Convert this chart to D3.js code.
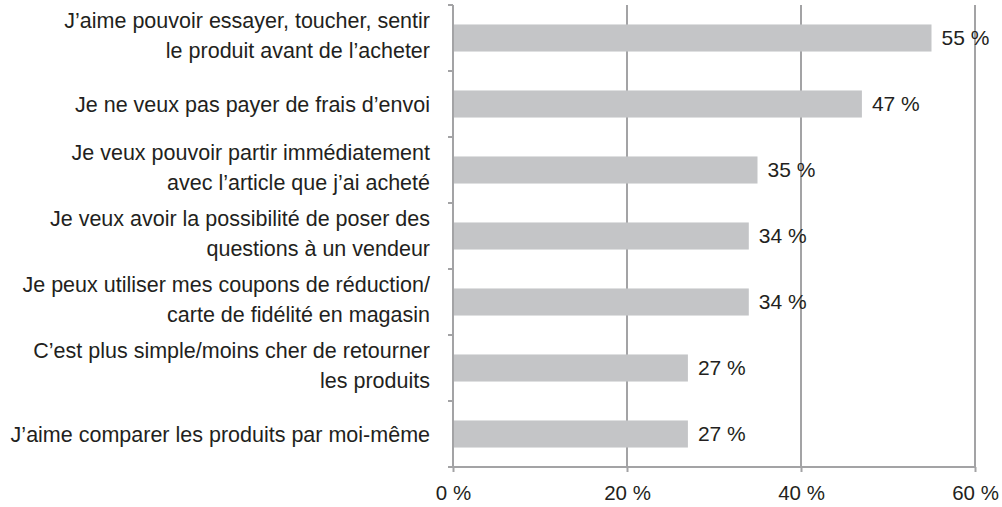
<!DOCTYPE html>
<html>
<head>
<meta charset="utf-8">
<script src="https://cdn.jsdelivr.net/npm/d3@7"></script>
<style>
  body { margin: 0; background: #fff; }
  svg text { font-family: "Liberation Sans", Arial, sans-serif; fill: #231f20; }
</style>
</head>
<body>
<svg width="1002" height="507"></svg>
<script>
// Data
const categories = [
    ["J\u2019aime pouvoir essayer,  toucher, sentir", "le produit avant de l\u2019acheter"],
    ["Je ne veux pas payer de frais d\u2019envoi"],
    ["Je veux pouvoir partir immédiatement", "avec l\u2019article que j\u2019ai acheté"],
    ["Je veux avoir la possibilité de poser des", "questions à un vendeur"],
    ["Je peux utiliser mes coupons de réduction/", "carte de fidélité en magasin "],
    ["C\u2019est plus simple/moins cher de retourner", "les produits"],
    ["J\u2019aime comparer les produits par moi-même"]
];
const values = [55, 47, 35, 34, 34, 27, 27];
const tickValues = [0, 20, 40, 60];

const svg = d3.select("svg");
const mLeft = 453, mRight = 975, mTop = 5, mBottom = 467;
const gridColor = "#a3a3a5";

const x = d3.scaleLinear().domain([0, 60]).range([mLeft, mRight]);
const y = d3.scaleBand()
    .domain(d3.range(values.length))
    .range([mTop, mBottom])
    .paddingInner(0.59)
    .paddingOuter(0.295);

// Gridlines
svg.append("g")
    .selectAll("line")
    .data(tickValues.slice(1))
    .enter()
    .append("line")
    .attr("x1", d => x(d)).attr("x2", d => x(d))
    .attr("y1", mTop).attr("y2", mBottom)
    .attr("stroke", gridColor)
    .attr("stroke-width", 2);

// Bars
svg.append("g")
    .selectAll("rect")
    .data(values)
    .enter()
    .append("rect")
    .attr("x", x(0))
    .attr("y", (d, i) => y(i))
    .attr("width", d => x(d) - x(0))
    .attr("height", y.bandwidth())
    .attr("fill", "#c4c5c7");

// Vertical axis with band-boundary ticks
const step = (mBottom - mTop) / values.length;
const bounds = d3.range(values.length + 1).map(i => mTop + i * step);
svg.append("line")
    .attr("x1", mLeft).attr("x2", mLeft)
    .attr("y1", mTop).attr("y2", mBottom)
    .attr("stroke", gridColor).attr("stroke-width", 2);
svg.append("g")
    .selectAll("line")
    .data(bounds)
    .enter()
    .append("line")
    .attr("x1", mLeft - 5).attr("x2", mLeft)
    .attr("y1", d => d).attr("y2", d => d)
    .attr("stroke", gridColor).attr("stroke-width", 2);

// Horizontal axis
const xAxis = svg.append("g")
    .attr("transform", `translate(0,${mBottom})`)
    .call(d3.axisBottom(x).tickValues(tickValues).tickSize(5).tickPadding(13)
        .tickFormat(d => d + " %"));
xAxis.select(".domain").attr("stroke", gridColor).attr("stroke-width", 2)
    .attr("d", `M${mLeft},0H${mRight}`);
xAxis.selectAll(".tick line").attr("stroke", gridColor).attr("stroke-width", 2);
xAxis.selectAll(".tick text")
    .attr("font-size", "20.5px")
    .attr("dy", "0.71em")
    .style("font-family", "'Liberation Sans', Arial, sans-serif")
    .attr("fill", "#231f20");

// Category labels
const labels = svg.append("g")
    .selectAll("text")
    .data(categories)
    .enter()
    .append("text")
    .attr("text-anchor", "end")
    .attr("font-size", "21.5px")
    .attr("transform", (d, i) => `translate(430,${y(i) + y.bandwidth() / 2})`);
labels.each(function (lines) {
    const t = d3.select(this);
    const lh = 30;
    const start = -(lines.length - 1) * lh / 2 - (lines.length > 1 ? 3 : 0);
    lines.forEach((line, k) => {
        t.append("tspan")
            .attr("x", 0)
            .attr("y", start + k * lh)
            .attr("dy", "0.35em")
            .text(line);
    });
});

// Value labels
svg.append("g")
    .selectAll("text")
    .data(values)
    .enter()
    .append("text")
    .attr("x", d => x(d) + 10)
    .attr("y", (d, i) => y(i) + y.bandwidth() / 2)
    .attr("dy", "0.35em")
    .attr("font-size", "21px")
    .text(d => d + " %");
</script>
</body>
</html>
